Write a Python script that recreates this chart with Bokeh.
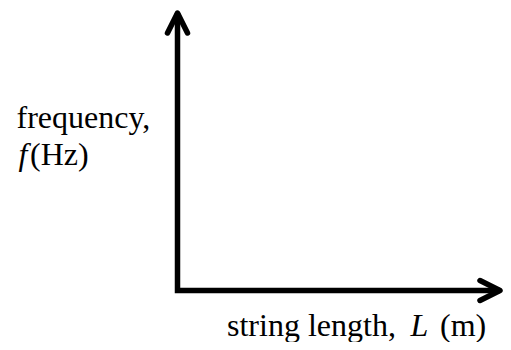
from bokeh.plotting import figure
from bokeh.models import Range1d, Arrow, OpenHead, Label
from bokeh.embed import file_html
from bokeh.resources import INLINE

# Schematic axes: no numeric data, unit extents of each axis
length_extent = [0.0, 1.0]   # string length, L (m)
freq_extent = [0.0, 1.0]     # frequency, f (Hz)

y_label_line1 = "frequency,"
y_label_sym = "f"
y_label_unit = "(Hz)"
x_label_text = "string length,"
x_label_sym = "L"
x_label_unit = "(m)"

# layout (pixels)
W, H = 503, 342
ox, oy = 177, 52          # frame position of the axes origin (from left / bottom)
tipx, tipy = 499.5, 329.5 # frame position of the arrow tips
LW = 5.5
FONT = "Liberation Serif"
FS = "32px"

sx = (tipx - ox) / (length_extent[1] - length_extent[0])
sy = (tipy - oy) / (freq_extent[1] - freq_extent[0])
x_range = Range1d(length_extent[0] - ox / sx, length_extent[0] + (W - ox) / sx)
y_range = Range1d(freq_extent[0] - oy / sy, freq_extent[0] + (H - oy) / sy)

p = figure(width=W, height=H, x_range=x_range, y_range=y_range,
           output_backend="svg", toolbar_location=None, min_border=0,
           x_axis_location=None, y_axis_location=None)
p.grid.visible = False
p.outline_line_color = None
p.background_fill_color = "white"
p.border_fill_color = "white"

# axes as one polyline (square corner)
p.line(x=[length_extent[0], length_extent[0], length_extent[1]],
       y=[freq_extent[1], freq_extent[0], freq_extent[0]],
       line_width=LW, line_color="black", line_join="miter")

# open arrow heads
for xe, ye in [(length_extent[1], freq_extent[0]), (length_extent[0], freq_extent[1])]:
    p.add_layout(Arrow(end=OpenHead(size=20, line_width=LW, line_color="black",
                                    line_join="round", line_cap="round"),
                       x_start=length_extent[0], y_start=freq_extent[0],
                       x_end=xe, y_end=ye, line_alpha=0))

def lab(text, x, y, style="normal"):
    p.add_layout(Label(x=x, y=y, x_units="screen", y_units="screen", text=text,
                       text_font=FONT, text_font_size=FS, text_font_style=style,
                       text_color="black", text_align="left",
                       text_baseline="alphabetic"))

lab(y_label_line1, 16, 226)
lab(y_label_sym, 18, 189, "italic")
lab(y_label_unit, 29.5, 189)
lab(x_label_text, 226.5, 18)
lab(x_label_sym, 410, 18, "italic")
lab(x_label_unit, 439.5, 18)

open("out.html", "w").write(file_html(p, INLINE))
